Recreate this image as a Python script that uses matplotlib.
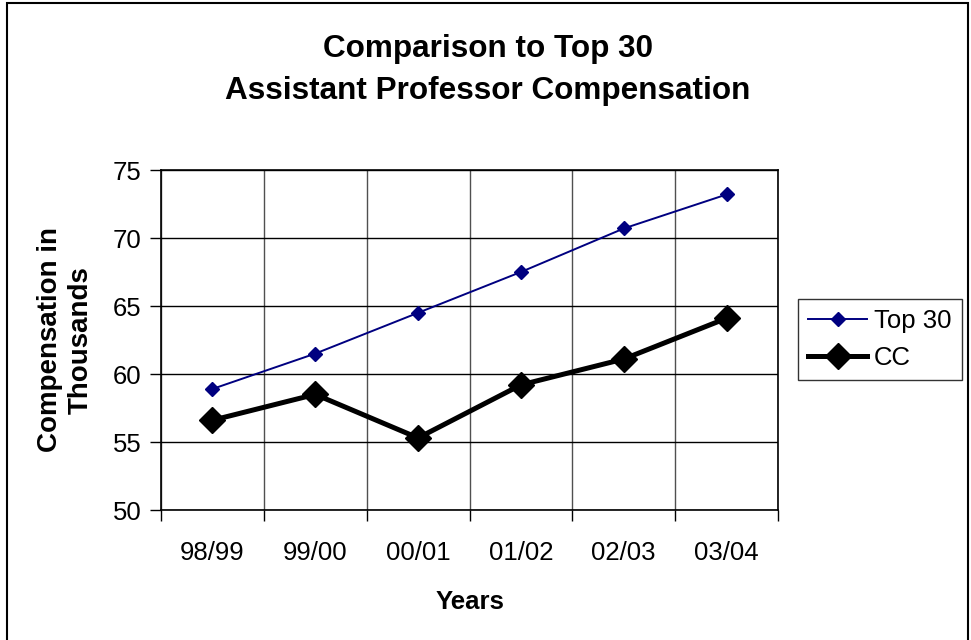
import matplotlib
matplotlib.use("Agg")
import matplotlib.pyplot as plt
from matplotlib.patches import Rectangle

years = ["98/99", "99/00", "00/01", "01/02", "02/03", "03/04"]
top30 = [58.9, 61.5, 64.5, 67.5, 70.7, 73.2]
cc = [56.6, 58.5, 55.3, 59.2, 61.1, 64.1]
yticks = [50, 55, 60, 65, 70, 75]

plt.rcParams['font.family'] = ['Liberation Sans', 'DejaVu Sans']

fig = plt.figure(figsize=(9.71, 6.40), dpi=100)
ax = fig.add_axes([161/971, 1 - 510/640, (778-161)/971, (510-170)/640])

x = list(range(len(years)))
ax.plot(x, top30, color='#000080', lw=1.4, marker='D', markersize=7.2,
        markerfacecolor='#000080', markeredgecolor='#000080', label='Top 30', zorder=3)
ax.plot(x, cc, color='black', lw=3.6, marker='D', markersize=13.5,
        markerfacecolor='black', markeredgecolor='black', label='CC', zorder=4)

ax.set_xlim(-0.5, len(years) - 0.5)
ax.set_ylim(50, 75)
ax.set_yticks(yticks)
ax.set_yticklabels([str(v) for v in yticks], fontsize=18.5)
ax.set_xticks(x)
ax.set_xticklabels(years, fontsize=18.5)
ax.set_xticks([i - 0.5 for i in range(len(years) + 1)], minor=True)
ax.tick_params(axis='x', which='major', length=0, pad=22)
ax.tick_params(axis='x', which='minor', length=8, width=1, color='black', direction='out')
ax.tick_params(axis='y', which='major', length=8, width=1, color='black', direction='out', pad=6)

ax.grid(axis='y', which='major', color='black', lw=1)
ax.grid(axis='x', which='minor', color='#505050', lw=1)
ax.set_axisbelow(True)
for s in ax.spines.values():
    s.set_color('black')
    s.set_linewidth(1.2)

ax.set_xlabel('Years', fontsize=18.5, fontweight='bold', labelpad=18)
ax.set_ylabel('Compensation in\nThousands', fontsize=20, fontweight='bold', labelpad=14,
              linespacing=1.2)

fig.text(488/971, 1 - 70/640, 'Comparison to Top 30\nAssistant Professor Compensation',
         ha='center', va='center', fontsize=22.7, fontweight='bold', linespacing=1.5)

leg = fig.legend(loc='upper left', bbox_to_anchor=(798/971, 1 - 299/640), fontsize=18.5,
                 frameon=True, fancybox=False, edgecolor='black', handlelength=2.3,
                 handletextpad=0.25, borderpad=0.4, labelspacing=0.5, borderaxespad=0)
leg.get_frame().set_linewidth(1)

fig.patches.append(Rectangle((7/971, -0.05), (968-7)/971, 1 - 3/640 + 0.05,
                             transform=fig.transFigure, fill=False, edgecolor='black',
                             lw=1.5))

fig.savefig('out.png', dpi=100)
